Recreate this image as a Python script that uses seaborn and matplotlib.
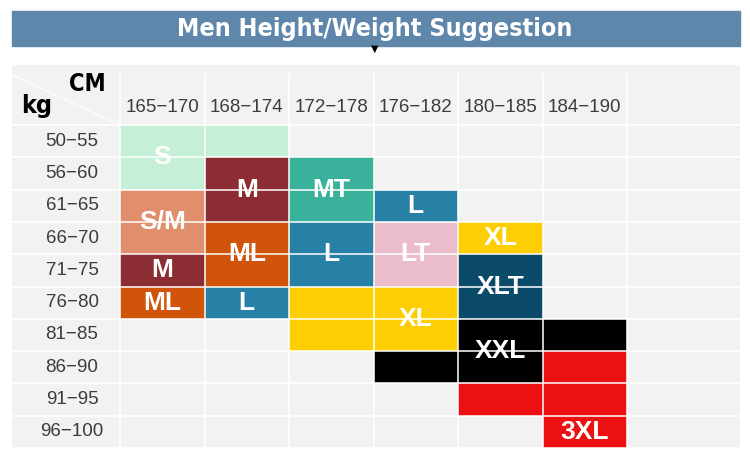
import numpy as np
import pandas as pd
import matplotlib
matplotlib.use('Agg')
import matplotlib.pyplot as plt
from matplotlib.colors import ListedColormap
from matplotlib.patches import Rectangle
import seaborn as sns

# --- data ---
heights = ["165−170", "168−174", "172−178", "176−182", "180−185", "184−190"]
weights = ["50−55", "56−60", "61−65", "66−70", "71−75",
           "76−80", "81−85", "86−90", "91−95", "96−100"]

# size band covering each (weight row, height column) cell, "" = no suggestion
size_grid = [
    ["S",   "S",   "",    "",    "",    ""],
    ["S",   "M",   "MT",  "",    "",    ""],
    ["S/M", "M",   "MT",  "L",   "",    ""],
    ["S/M", "ML",  "L",   "LT",  "XL",  ""],
    ["M",   "ML",  "L",   "LT",  "XLT", ""],
    ["ML",  "L",   "XL",  "XL",  "XLT", ""],
    ["",    "",    "XL",  "XL",  "XXL", "XXL"],
    ["",    "",    "",    "XXL", "XXL", "3XL"],
    ["",    "",    "",    "",    "3XL", "3XL"],
    ["",    "",    "",    "",    "",    "3XL"],
]

# printed labels: text, height column, first weight row, last weight row
label_text = ["S", "M", "MT", "L", "S/M", "ML", "L", "LT", "XL",
              "M", "XLT", "ML", "L", "XL", "XXL", "3XL"]
label_col = [0, 1, 2, 3, 0, 1, 2, 3, 4, 0, 4, 0, 1, 3, 4, 5]
label_row0 = [0, 1, 1, 2, 2, 3, 3, 3, 3, 4, 4, 5, 5, 5, 6, 9]
label_row1 = [1, 2, 2, 2, 3, 4, 4, 4, 3, 4, 5, 5, 5, 6, 7, 9]

size_order = ["S", "M", "MT", "L", "S/M", "ML", "LT", "XL", "XLT", "XXL", "3XL"]
size_colors = ["#c6efd7", "#8c2d33", "#39b19b", "#2780a5", "#e08e6b", "#d0540a",
               "#ebbdca", "#fdcf02", "#0c4a6a", "#000000", "#eb1011"]

# --- figure ---
sns.set_theme(style="white")
txt_font = ["Liberation Sans", "DejaVu Sans"]
head_font = ["Liberation Sans Narrow", "DejaVu Sans"]
plt.rcParams['font.family'] = txt_font

W, H = 750, 476
fig = plt.figure(figsize=(7.5, 4.76), dpi=100)
fig.patch.set_facecolor("white")

# title banner
fig.patches.append(Rectangle((12 / W, 1 - 46 / H), 728 / W, 35 / H,
                             transform=fig.transFigure, color="#5f87ab", zorder=0))
fig.text(375 / W, 1 - 29 / H, "Men Height/Weight Suggestion", ha="center", va="center",
         color="white", fontsize=18, fontweight="bold", family=head_font,
         fontstretch="condensed")
fig.text(375 / W, 1 - 49 / H, "▼", ha="center", va="center", fontsize=7,
         color="black", family=["DejaVu Sans"])

# table panel
ax = fig.add_axes([12 / W, 1 - 448 / H, 728 / W, 383 / H])
codes = pd.DataFrame([[size_order.index(s) if s else np.nan for s in row]
                      for row in size_grid], index=weights, columns=heights)
sns.heatmap(codes, ax=ax, cmap=ListedColormap(size_colors), vmin=-0.5,
            vmax=len(size_order) - 0.5, cbar=False, xticklabels=False,
            yticklabels=False, linewidths=0)
ax.set_facecolor("#f2f2f2")

px_x = (627 - 120) / 6.0
px_y = (448 - 125) / 10.0
x_lo, x_hi = -(120 - 12) / px_x, 6 + (740 - 627) / px_x
y_top = -(125 - 65) / px_y
ax.set_xlim(x_lo, x_hi)
ax.set_ylim(10, y_top)
for s in ax.spines.values():
    s.set_visible(False)
ax.set_xticks([])
ax.set_yticks([])

# white grid lines
ax.hlines(np.arange(0, 11), x_lo, x_hi, color="white", lw=1.3, alpha=0.85, zorder=3)
ax.vlines(np.arange(0, 7), y_top + 0.25, 10, color="white", lw=1.3, alpha=0.85, zorder=3)
ax.plot([x_lo, 0], [y_top + 0.3, 0], color="white", lw=1, alpha=0.8, zorder=3)

# header texts
for j, h in enumerate(heights):
    ax.text(j + 0.5, -0.55, h, ha="center", va="center", fontsize=13.5, color="#3c3c3c")
for i, w in enumerate(weights):
    ax.text((72 - 120) / px_x, i + 0.5, w, ha="center", va="center",
            fontsize=13.5, color="#3c3c3c")
ax.text((87 - 120) / px_x, (84 - 125) / px_y, "CM", ha="center", va="center",
        fontsize=17, fontweight="bold", color="black", family=head_font,
        fontstretch="condensed")
ax.text((37 - 120) / px_x, (106 - 125) / px_y, "kg", ha="center", va="center",
        fontsize=18, fontweight="bold", color="black", family=head_font,
        fontstretch="condensed")

# size labels
for t, c, r0, r1 in zip(label_text, label_col, label_row0, label_row1):
    ax.text(c + 0.5, (r0 + r1 + 1) / 2.0, t, ha="center", va="center",
            fontsize=19, fontweight="bold", color="white", zorder=2)

fig.savefig("out.png", dpi=100, facecolor="white")
